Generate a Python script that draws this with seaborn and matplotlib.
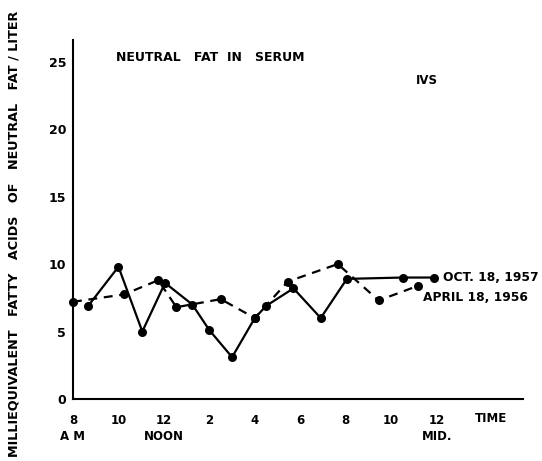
import matplotlib
matplotlib.use("Agg")
import matplotlib.pyplot as plt
import seaborn as sns
import pandas as pd

# hours after 8 A.M.
oct_hours = [0.67, 2.0, 3.05, 4.05, 5.25, 6.0, 7.0, 8.0, 8.5, 9.7, 10.9, 12.05, 14.5, 15.9]
oct_values = [6.9, 9.8, 5.0, 8.6, 7.0, 5.1, 3.1, 6.0, 6.9, 8.2, 6.0, 8.9, 9.0, 9.0]
apr_hours = [0.0, 2.25, 3.75, 4.55, 6.5, 8.0, 9.45, 11.65, 13.45, 15.2]
apr_values = [7.2, 7.75, 8.8, 6.8, 7.4, 6.0, 8.7, 10.0, 7.3, 8.4]

tick_pos = [0, 2, 4, 6, 8, 10, 12, 14, 16]
tick_labels = ["8\nA M", "10", "12\nNOON", "2", "4", "6", "8", "10", "12\nMID."]
y_ticks = [0, 5, 10, 15, 20, 25]

sns.set_style("white")
plt.rcParams["font.family"] = ["DejaVu Sans"]
plt.rcParams["font.weight"] = "bold"
plt.rcParams["text.color"] = "black"
plt.rcParams["xtick.color"] = "black"
plt.rcParams["ytick.color"] = "black"

fig = plt.figure(figsize=(5.42, 4.61), dpi=100)
ax = fig.add_axes([73 / 542, 62 / 461, 450 / 542, 359 / 461])

oct_df = pd.DataFrame({"hour": oct_hours, "value": oct_values})
apr_df = pd.DataFrame({"hour": apr_hours, "value": apr_values})

sns.lineplot(data=oct_df, x="hour", y="value", ax=ax, color="black", lw=1.6,
             marker="o", markersize=6.5, markeredgewidth=0, sort=False, clip_on=False)
sns.lineplot(data=apr_df, x="hour", y="value", ax=ax, color="black", lw=1.6,
             marker="o", markersize=6.5, markeredgewidth=0, sort=False, clip_on=False,
             linestyle=(0, (4, 3)))

ax.set_xlim(0, 19.8)
ax.set_ylim(0, 26.6)
ax.set_xticks(tick_pos)
ax.set_xticklabels(tick_labels, fontsize=8.5, fontweight="bold", linespacing=1.3, color="black")
ax.set_yticks(y_ticks)
ax.set_yticklabels([str(v) for v in y_ticks], fontsize=9, fontweight="bold", color="black")
ax.tick_params(axis="x", length=0, pad=11)
ax.tick_params(axis="y", length=0, pad=5)
for lbl in ax.get_xticklabels():
    lbl.set_verticalalignment("top")
ax.set_xlabel("")
ax.set_ylabel("")
for s in ["top", "right"]:
    ax.spines[s].set_visible(False)
for s in ["left", "bottom"]:
    ax.spines[s].set_color("black")
    ax.spines[s].set_linewidth(1.5)

ax.text(18.4, -1.45, "TIME", fontsize=8.5, fontweight="bold", ha="center", va="center", color="black")
ax.text(1.9, 25.3, "NEUTRAL   FAT  IN   SERUM", fontsize=9, fontweight="bold", ha="left", va="center", color="black")
ax.text(15.1, 23.6, "IVS", fontsize=8.5, fontweight="bold", ha="left", va="center", color="black")
ax.text(16.3, 9.0, "OCT. 18, 1957", fontsize=8.8, fontweight="bold", ha="left", va="center", clip_on=False, color="black")
ax.text(15.4, 7.55, "APRIL 18, 1956", fontsize=8.8, fontweight="bold", ha="left", va="center", clip_on=False, color="black")

fig.text(14 / 542, 1 - 234 / 461,
         "MILLIEQUIVALENT   FATTY   ACIDS   OF   NEUTRAL   FAT / LITER",
         rotation=90, fontsize=9.2, fontweight="bold", ha="center", va="center", color="black")

fig.savefig("out.png", dpi=100)
